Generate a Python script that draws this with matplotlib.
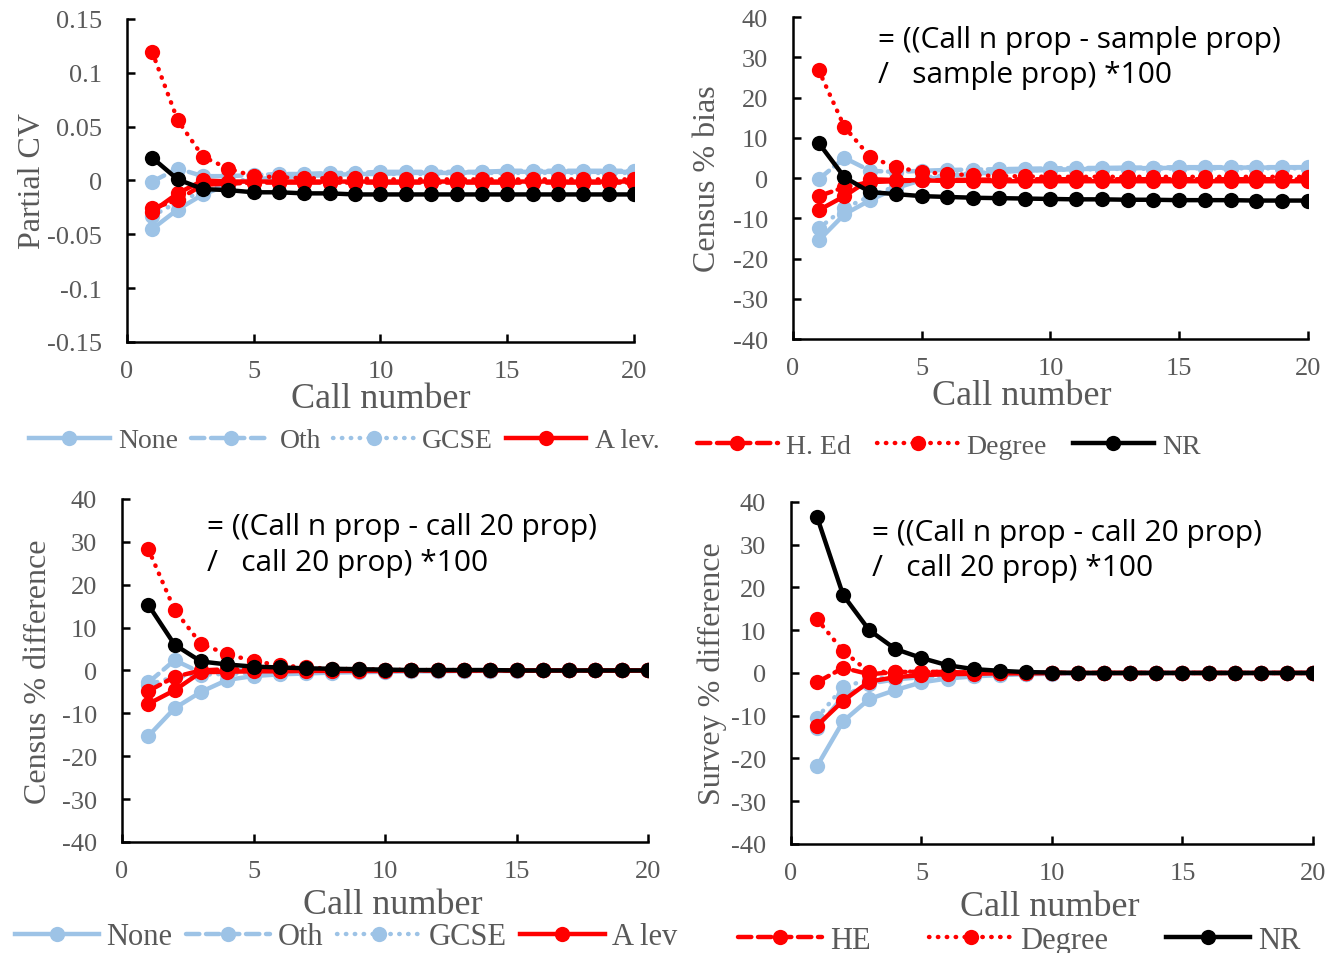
import matplotlib
matplotlib.use("Agg")
import matplotlib.pyplot as plt
from matplotlib.lines import Line2D

plt.rcParams['font.family'] = ['Liberation Serif', 'DejaVu Serif']
plt.rcParams['axes.unicode_minus'] = False

# --- data ---
calls = list(range(1, 21))

# Partial CV
cv_none = [-0.045, -0.027, -0.013, -0.004, 0.001, 0.003, 0.004, 0.005, 0.006, 0.006,
           0.007, 0.007, 0.007, 0.008, 0.008, 0.008, 0.008, 0.008, 0.008, 0.008]
cv_oth = [-0.001, 0.011, 0.004, 0.004, 0.005, 0.006, 0.006, 0.007, 0.007, 0.008,
          0.008, 0.008, 0.008, 0.008, 0.009, 0.009, 0.009, 0.009, 0.009, 0.009]
cv_gcse = [-0.033, -0.020, -0.010, -0.002, 0.002, 0.003, 0.004, 0.005, 0.005, 0.006,
           0.006, 0.006, 0.007, 0.007, 0.007, 0.007, 0.007, 0.007, 0.007, 0.007]
cv_alev = [-0.029, -0.012, 0.000, -0.001, -0.001, -0.001, -0.001, -0.001, -0.001, -0.001,
           -0.001, -0.001, -0.001, -0.001, -0.001, -0.001, -0.001, -0.001, -0.001, -0.001]
cv_hed = [-0.026, -0.018, -0.004, -0.003, -0.002, -0.002, -0.002, -0.002, -0.002, -0.002,
          -0.002, -0.002, -0.002, -0.002, -0.002, -0.002, -0.002, -0.002, -0.002, -0.002]
cv_degree = [0.119, 0.056, 0.022, 0.011, 0.004, 0.003, 0.002, 0.002, 0.002, 0.001,
             0.001, 0.001, 0.001, 0.001, 0.001, 0.001, 0.001, 0.001, 0.001, 0.001]
cv_nr = [0.021, 0.001, -0.008, -0.009, -0.011, -0.011, -0.012, -0.012, -0.013, -0.013,
         -0.013, -0.013, -0.013, -0.013, -0.013, -0.013, -0.013, -0.013, -0.013, -0.013]

# Census % bias
cb_none = [-15.5, -9.0, -5.5, -2.5, -0.5, 0.5, 1.0, 1.5, 1.8, 2.0,
           2.2, 2.3, 2.4, 2.5, 2.5, 2.5, 2.6, 2.6, 2.6, 2.6]
cb_oth = [-0.3, 5.0, 1.8, 1.5, 1.8, 2.0, 2.1, 2.2, 2.3, 2.4,
          2.5, 2.5, 2.6, 2.6, 2.7, 2.7, 2.7, 2.7, 2.7, 2.7]
cb_gcse = [-12.5, -7.5, -4.5, -2.0, 0.0, 0.8, 1.2, 1.6, 1.9, 2.0,
           2.1, 2.2, 2.3, 2.3, 2.4, 2.4, 2.4, 2.4, 2.4, 2.4]
cb_alev = [-8.0, -4.5, -0.3, -0.5, -0.6, -0.7, -0.7, -0.8, -0.8, -0.8,
           -0.8, -0.8, -0.8, -0.8, -0.8, -0.8, -0.8, -0.8, -0.8, -0.8]
cb_hed = [-4.5, -2.3, -1.0, -0.8, -0.6, -0.5, -0.4, -0.4, -0.3, -0.3,
          -0.3, -0.3, -0.3, -0.3, -0.3, -0.3, -0.3, -0.3, -0.3, -0.3]
cb_degree = [26.8, 12.7, 5.2, 2.7, 1.5, 1.0, 0.7, 0.5, 0.4, 0.3,
             0.3, 0.3, 0.3, 0.3, 0.3, 0.3, 0.3, 0.3, 0.3, 0.3]
cb_nr = [8.7, 0.2, -3.5, -4.0, -4.5, -4.7, -4.9, -5.0, -5.1, -5.2,
         -5.3, -5.3, -5.4, -5.4, -5.5, -5.5, -5.5, -5.6, -5.6, -5.6]

# Census % difference
cd_none = [-15.3, -8.8, -5.0, -2.2, -1.3, -0.9, -0.7, -0.5, -0.4, -0.3,
           -0.2, -0.2, -0.1, -0.1, -0.1, 0.0, 0.0, 0.0, 0.0, 0.0]
cd_oth = [-2.8, 2.4, -0.5, 0.0, 0.1, 0.1, 0.1, 0.1, 0.1, 0.0,
          0.0, 0.0, 0.0, 0.0, 0.0, 0.0, 0.0, 0.0, 0.0, 0.0]
cd_gcse = [-3.3, -1.5, -1.0, -0.8, -0.6, -0.5, -0.4, -0.3, -0.2, -0.2,
           -0.1, -0.1, -0.1, -0.1, 0.0, 0.0, 0.0, 0.0, 0.0, 0.0]
cd_alev = [-7.8, -4.6, -0.4, -0.3, -0.2, -0.2, -0.1, -0.1, -0.1, -0.1,
           0.0, 0.0, 0.0, 0.0, 0.0, 0.0, 0.0, 0.0, 0.0, 0.0]
cd_hed = [-4.8, -1.5, 0.0, 0.3, 0.2, 0.2, 0.1, 0.1, 0.1, 0.0,
          0.0, 0.0, 0.0, 0.0, 0.0, 0.0, 0.0, 0.0, 0.0, 0.0]
cd_degree = [28.3, 14.1, 6.2, 3.8, 2.2, 1.2, 0.7, 0.4, 0.3, 0.2,
             0.1, 0.1, 0.1, 0.0, 0.0, 0.0, 0.0, 0.0, 0.0, 0.0]
cd_nr = [15.3, 6.0, 2.1, 1.4, 0.9, 0.7, 0.5, 0.4, 0.3, 0.2,
         0.1, 0.1, 0.1, 0.1, 0.0, 0.0, 0.0, 0.0, 0.0, 0.0]

# Survey % difference
sd_none = [-21.8, -11.3, -6.1, -4.0, -2.2, -1.3, -0.8, -0.5, -0.3, -0.2,
           -0.1, -0.1, 0.0, 0.0, 0.0, 0.0, 0.0, 0.0, 0.0, 0.0]
sd_oth = [-12.8, -5.5, -2.5, -1.5, -1.0, -0.6, -0.4, -0.3, -0.2, -0.1,
          -0.1, 0.0, 0.0, 0.0, 0.0, 0.0, 0.0, 0.0, 0.0, 0.0]
sd_gcse = [-10.5, -3.3, -1.5, -0.8, -0.5, -0.3, -0.2, -0.1, -0.1, 0.0,
           0.0, 0.0, 0.0, 0.0, 0.0, 0.0, 0.0, 0.0, 0.0, 0.0]
sd_alev = [-12.3, -6.5, -2.0, -1.0, -0.5, -0.3, -0.2, -0.1, -0.1, 0.0,
           0.0, 0.0, 0.0, 0.0, 0.0, 0.0, 0.0, 0.0, 0.0, 0.0]
sd_hed = [-2.2, 1.2, -0.3, 0.2, 0.3, 0.2, 0.1, 0.1, 0.0, 0.0,
          0.0, 0.0, 0.0, 0.0, 0.0, 0.0, 0.0, 0.0, 0.0, 0.0]
sd_degree = [12.6, 5.1, 0.2, 0.3, 0.3, 0.2, 0.1, 0.1, 0.1, 0.0,
             0.0, 0.0, 0.0, 0.0, 0.0, 0.0, 0.0, 0.0, 0.0, 0.0]
sd_nr = [36.5, 18.2, 10.0, 5.6, 3.5, 1.8, 0.9, 0.5, 0.2, 0.1,
         0.0, 0.0, 0.0, 0.0, 0.0, 0.0, 0.0, 0.0, 0.0, 0.0]

cv_ticks = [-0.15, -0.1, -0.05, 0, 0.05, 0.1, 0.15]
cv_ticklabels = ['-0.15', '-0.1', '-0.05', '0', '0.05', '0.1', '0.15']
pct_ticks = [-40, -30, -20, -10, 0, 10, 20, 30, 40]
x_ticks = [0, 5, 10, 15, 20]

# --- styles ---
BLUE = '#9DC3E6'
RED = '#FF0000'
TXT = '#595959'
DASH = (0, (3.0, 1.5))
DOT = (0, (0.1, 1.9))
LW = 3.2
MS = 11
series_style = [
    (BLUE, '-'), (BLUE, DASH), (BLUE, DOT),
    (RED, '-'), (RED, DASH), (RED, DOT),
    ('black', '-'),
]


def draw(ax, series):
    for (color, ls), ys in zip(series_style, series):
        ax.plot(calls, ys, color=color, linestyle=ls, linewidth=LW,
                dash_capstyle='round', marker='o', markersize=MS,
                markeredgewidth=0)


def style_axis(ax, ylim, yticks, ylabels=None):
    ax.set_xlim(0, 20)
    ax.set_ylim(*ylim)
    ax.set_xticks(x_ticks)
    ax.set_yticks(yticks)
    if ylabels is not None:
        ax.set_yticklabels(ylabels)
    for side in ('top', 'right'):
        ax.spines[side].set_visible(False)
    for side in ('left', 'bottom'):
        ax.spines[side].set_linewidth(1.8)
    ax.tick_params(direction='in', length=6, width=1.8, labelsize=19,
                   labelcolor=TXT, colors='black')
    ax.tick_params(axis='x', pad=13)
    ax.tick_params(axis='y', pad=18)
    for lab in ax.get_xticklabels() + ax.get_yticklabels():
        lab.set_color(TXT)


fig = plt.figure(figsize=(13.28, 9.54), dpi=100)

ax1 = fig.add_axes([0.0956, 0.6405, 0.3818, 0.3386])
ax2 = fig.add_axes([0.5971, 0.6436, 0.3878, 0.3375])
ax3 = fig.add_axes([0.0919, 0.1164, 0.3961, 0.3595])
ax4 = fig.add_axes([0.5956, 0.1143, 0.3931, 0.3585])

draw(ax1, [cv_none, cv_oth, cv_gcse, cv_alev, cv_hed, cv_degree, cv_nr])
draw(ax2, [cb_none, cb_oth, cb_gcse, cb_alev, cb_hed, cb_degree, cb_nr])
draw(ax3, [cd_none, cd_oth, cd_gcse, cd_alev, cd_hed, cd_degree, cd_nr])
draw(ax4, [sd_none, sd_oth, sd_gcse, sd_alev, sd_hed, sd_degree, sd_nr])

style_axis(ax1, (-0.15, 0.15), cv_ticks, cv_ticklabels)
for ax in (ax2, ax3, ax4):
    style_axis(ax, (-40, 40), pct_ticks)

ylabels = ['Partial CV', 'Census % bias', 'Census % difference', 'Survey % difference']
ylabel_pads = [0, 8, 6, 3]
xlabel_x = [0.5, 0.445, 0.515, 0.495]
xlabel_pads = [0, 0, 4, 4]
for ax, lab, yp, xx, xp in zip((ax1, ax2, ax3, ax4), ylabels, ylabel_pads,
                               xlabel_x, xlabel_pads):
    ax.set_ylabel(lab, fontsize=23, color=TXT, labelpad=yp)
    ax.set_xlabel('Call number', fontsize=26, color=TXT, labelpad=xp, x=xx)

# formula notes
sans = ['Open Sans', 'DejaVu Sans']
notes = [
    (ax2, 0.165, 0.93, 0.82, '= ((Call n prop - sample prop)', '/   sample prop) *100'),
    (ax3, 0.162, 0.921, 0.816, '= ((Call n prop - call 20 prop)', '/   call 20 prop) *100'),
    (ax4, 0.155, 0.912, 0.807, '= ((Call n prop - call 20 prop)', '/   call 20 prop) *100'),
]
for ax, x, y1, y2, l1, l2 in notes:
    ax.text(x, y1, l1, transform=ax.transAxes, fontsize=21.5, family=sans,
            ha='left', va='center', color='black')
    ax.text(x, y2, l2, transform=ax.transAxes, fontsize=21.5, family=sans,
            ha='left', va='center', color='black')


def handles(idx):
    out = []
    for i in idx:
        color, ls = series_style[i]
        out.append(Line2D([0], [0], color=color, linestyle=ls, linewidth=LW,
                          dash_capstyle='round', marker='o', markersize=MS,
                          markeredgewidth=0))
    return out


top_kw = dict(frameon=False, loc='center left', borderpad=0, borderaxespad=0,
              handlelength=2.9, handletextpad=0.3, fontsize=20, labelcolor=TXT)
bot_kw = dict(frameon=False, loc='center left', borderpad=0, borderaxespad=0,
              handlelength=2.75, handletextpad=0.25, fontsize=22, labelcolor=TXT)

fig.legend(handles([0, 1, 2, 3]), ['None', 'Oth', 'GCSE', 'A lev.'], ncol=4,
           columnspacing=0.45, bbox_to_anchor=(0.022, 0.537), **top_kw)
fig.legend(handles([4, 5, 6]), ['H. Ed', 'Degree', 'NR'], ncol=3,
           columnspacing=0.95, bbox_to_anchor=(0.525, 0.531), **top_kw)
fig.legend(handles([0, 1, 2, 3]), ['None', 'Oth', 'GCSE', 'A lev'], ncol=4,
           columnspacing=0.45, bbox_to_anchor=(0.011, 0.017), **bot_kw)
fig.legend(handles([4, 5, 6]), ['HE', 'Degree', 'NR'], ncol=3,
           columnspacing=1.9, bbox_to_anchor=(0.556, 0.013), **bot_kw)

fig.savefig('out.png', dpi=100)
